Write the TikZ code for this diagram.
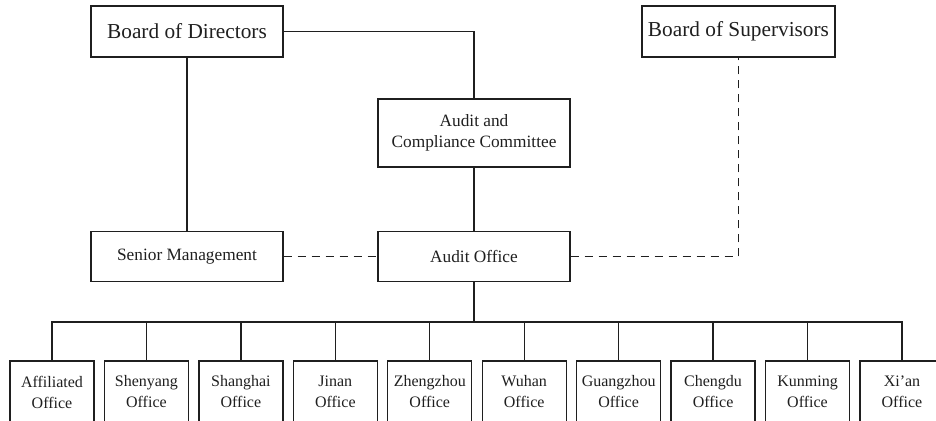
\documentclass[tikz,border=0pt]{standalone}
\usepackage{fontspec}
\setmainfont{Liberation Serif}
\begin{document}
\begin{tikzpicture}[x=1pt,y=-1pt,
  box/.style={draw=black!88, line width=1.4pt, inner sep=0pt, align=center, text=black!88},
  bigbox/.style={box, minimum width=192pt, minimum height=51pt, font=\fontsize{21.3}{25}\selectfont},
  midbox/.style={box, minimum width=192pt, minimum height=50pt, font=\fontsize{17.3}{21}\selectfont},
  officebox/.style={box, minimum width=84pt, minimum height=62pt, font=\fontsize{16}{21}\selectfont},
  conn/.style={draw=black!88, line width=1.4pt},
  dconn/.style={conn, dash pattern=on 8pt off 6pt}]
\useasboundingbox (0,0) rectangle (936,420);
\clip (0,0) rectangle (936,420);
\node[bigbox] (bod) at (187,31.5) {Board of Directors};
\node[bigbox, minimum width=193pt] (bos) at (738.5,31.5) {Board of Supervisors};
\node[midbox, minimum height=68pt] (acc) at (474,133) {Audit and\\Compliance Committee};
\node[midbox] (sm) at (187,256.5) {Senior Management};
\node[midbox] (ao) at (474,256.5) {Audit Office};
\foreach \name/\txt [count=\i from 0] in {o1/Affiliated, o2/Shenyang, o3/Shanghai, o4/Jinan, o5/Zhengzhou, o6/Wuhan, o7/Guangzhou, o8/Chengdu, o9/Kunming, o10/Xi’an} {
  \node[officebox] (\name) at ({52+94.44*\i},392) {\txt\\Office};
}
\coordinate (bus) at (474,322);
\draw[conn] (bod.east) -| (acc.north);
\draw[conn] (bod.south) -- (sm.north);
\draw[conn] (acc.south) -- (ao.north);
\draw[dconn] (sm.east) -- (ao.west);
\draw[dconn] (ao.east) -| (bos.south);
\draw[conn] (ao.south) -- (bus);
\draw[conn] (o1.north) |- (bus) -| (o10.north);
\foreach \name in {o2,o3,o4,o5,o6,o7,o8,o9} {
  \draw[conn] (\name.north) -- (\name.north |- bus);
}
\end{tikzpicture}
\end{document}
